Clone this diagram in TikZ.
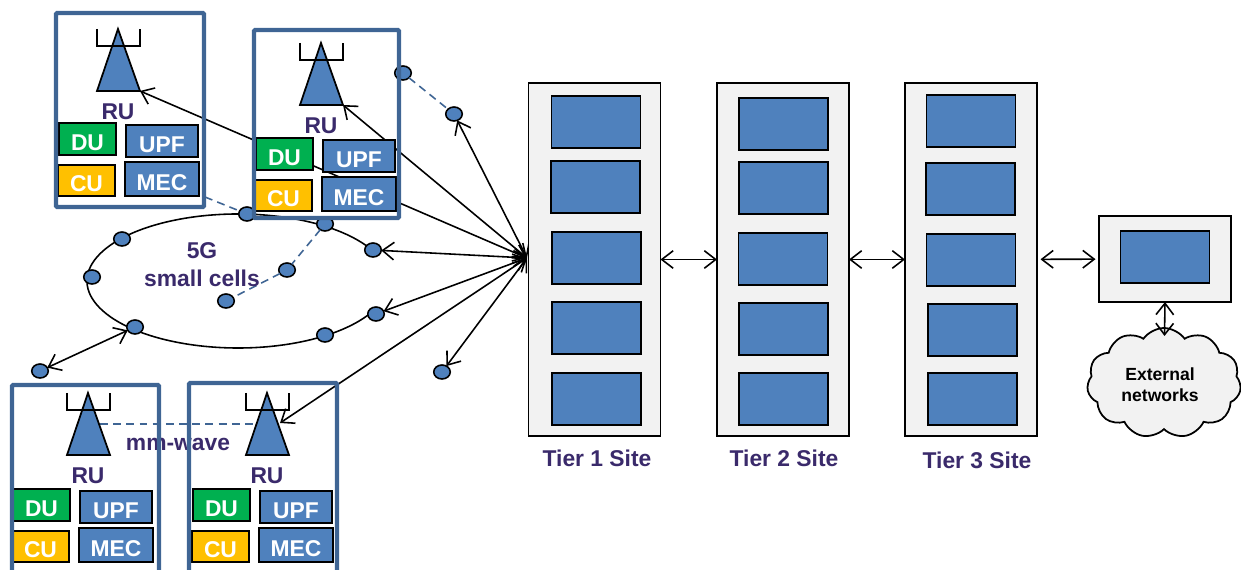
\documentclass[tikz,border=0pt]{standalone}
\usepackage{fontspec}
\setmainfont{Liberation Sans}
\usetikzlibrary{arrows.meta,shapes.symbols,shapes.geometric}
\definecolor{cellblue}{HTML}{4F81BD}
\definecolor{framblue}{HTML}{3F6594}
\definecolor{labelpurple}{HTML}{3A2A6B}
\definecolor{sitegray}{HTML}{F2F2F2}
\definecolor{dugreen}{HTML}{00B050}
\definecolor{cuyellow}{HTML}{FFC000}
% one radio unit: #1 name, #2,#3 tip of the antenna, #4,#5 corner of the DU box
\newcommand{\cellunit}[5]{
	\draw[line width=1pt,fill=cellblue] (#2,#3) -- (#2+22,#3+62) -- (#2-21,#3+62) -- cycle;
	\draw[line width=1pt] (#2-21,#3) -- (#2-21,#3+17) -- (#2+22,#3+17) -- (#2+22,#3);
	\node[lab] (ru#1) at (#2,#3+83) {RU};
	\node[unit,fill=dugreen,minimum width=1.14cm,minimum height=.64cm] (du#1) at (#4+28.5,#5+16) {DU};
	\node[unit,fill=cellblue,minimum width=1.44cm,minimum height=.64cm] (upf#1) at (#4+103,#5+18) {UPF};
	\node[unit,fill=cuyellow,minimum width=1.14cm,minimum height=.62cm] (cu#1) at (#4+27.5,#5+57.5) {CU};
	\node[unit,fill=cellblue,minimum width=1.48cm,minimum height=.68cm] (mec#1) at (#4+103,#5+56) {MEC};
}
\tikzset{
	>={Straight Barb[length=6.5pt,width=10pt]},
	lab/.style={text=labelpurple,font=\bfseries\fontsize{13}{16}\selectfont,inner sep=0pt,align=center},
	unit/.style={draw=black,line width=1pt,text=white,font=\bfseries\fontsize{13}{16}\selectfont,inner sep=0pt,outer sep=0pt,text height=13pt,text depth=0pt},
	frame/.style={draw=framblue,line width=2.3pt,rounded corners=0.5pt},
	cell/.style={draw=black,line width=0.9pt,ellipse,fill=cellblue,inner sep=0pt,outer sep=0pt,minimum width=.33cm,minimum height=.28cm},
	radio/.style={draw=framblue,line width=0.9pt,dash pattern=on 4.5pt off 3pt},
	link/.style={<->,line width=0.9pt},
	site/.style={draw=black,line width=1pt,fill=sitegray,inner sep=0pt,outer sep=0pt,minimum width=2.64cm},
	slot/.style={draw=black,line width=1pt,fill=cellblue,inner sep=0pt,outer sep=0pt,minimum width=1.78cm,minimum height=1.04cm},
	sitelab/.style={text=labelpurple,font=\bfseries\fontsize{13}{16}\selectfont,inner sep=0pt}
}
\begin{document}
\begin{tikzpicture}[x=0.02cm,y=-0.02cm]
	\useasboundingbox (0,0) rectangle (1241,570);
	\clip (0,0) rectangle (1241,570);
	\coordinate (hub) at (527,258);
	\coordinate (tipa) at (140,91);
	\coordinate (tipb) at (343,105);
	\coordinate (tipd) at (280,423);
	\coordinate (rima) at (205,197);
	\coordinate (wavec) at (100,424);
	\coordinate (waved) at (256,424);
	\coordinate (nettop) at (1164.5,336);

	% small cell ring
	\draw[line width=0.9pt] (373,251) arc [start angle=-26.6,end angle=-336,x radius=151,y radius=67];
	\foreach \n/\x/\y in {ca/247/214,cb/325/224,cc/373/250,cd/376/314,ce/325/335,cf/135/327,cg/92/277,ch/122/239,ci/287/270,cj/226/301,ck/403/73,cl/454/114,cm/40/371,cn/442/372}
		\node[cell] (\n) at (\x,\y) {};
	\draw[radio] (cb) -- (ci);
	\draw[radio] (ci) -- (cj);
	\draw[radio] (ck) -- (cl);
	\draw[radio] (rima) -- (ca);
	\draw[radio] (wavec) -- (waved);

	\node[lab] (fiveg) at (202,265) {5G\\small cells};
	\node[lab] (wave) at (178,444) {mm-wave};

	% to the first tier
	\draw[link] (hub) -- (tipa);
	\draw[link] (hub) -- (tipb);
	\draw[link] (hub) -- (cl);
	\draw[link] (hub) -- (cc);
	\draw[link] (hub) -- (cd);
	\draw[link] (hub) -- (tipd);
	\draw[link] (hub) -- (cn);
	\draw[link] (cf) -- (cm);

	% radio units
	\cellunit{a}{118}{29}{59}{123}
	\cellunit{b}{321}{43}{256}{138}
	\cellunit{c}{88}{393}{13}{489}
	\cellunit{d}{267}{393}{193}{489}
	\draw[frame] (56,13) rectangle (204,207);
	\draw[frame] (254,30) rectangle (399,218);
	\draw[frame] (12,385) rectangle (159,585);
	\draw[frame] (189,383) rectangle (337,585);

	% sites
	\node[site,minimum height=7.06cm] (sitea) at (594.5,259.5) {};
	\node[site,minimum height=7.06cm] (siteb) at (783,259.5) {};
	\node[site,minimum height=7.06cm] (sitec) at (971,259.5) {};
	\foreach \n/\x/\y in {aa/596/122,ab/595.5/187,ac/596.5/258,ad/596.5/328,ae/596.5/399,
		ba/783.5/124,bb/783.5/188,bc/783/259,bd/783.5/329,be/783.5/399,
		ca/971/121,cb/970.5/189,cc/971/260,cd/972.5/330,ce/972.5/399}
		\node[slot] (slot\n) at (\x,\y) {};
	\node[sitelab] (labela) at (597,458) {Tier 1 Site};
	\node[sitelab] (labelb) at (784,458) {Tier 2 Site};
	\node[sitelab] (labelc) at (977,460) {Tier 3 Site};

	\node[site,minimum height=1.72cm] (ext) at (1165,259) {};
	\node[slot] (extslot) at (1165,257) {};
	\node[cloud,draw=black,line width=1pt,fill=sitegray,cloud puffs=11,cloud puff arc=110,aspect=1.4,inner sep=0pt,outer sep=0pt,
		minimum width=3.08cm,minimum height=2.2cm] (net) at (1164,383) {};
	\node[align=center,inner sep=0pt,font=\bfseries\fontsize{10}{12}\selectfont] (nettext) at (1160,385) {External\\networks};

	\draw[link] (sitea) -- (siteb);
	\draw[link] (siteb) -- (sitec);
	\draw[link,shorten <=2pt,shorten >=2pt] (sitec) -- (ext);
	\draw[link] (ext.south |- ext.south) -- (nettop);
\end{tikzpicture}
\end{document}
